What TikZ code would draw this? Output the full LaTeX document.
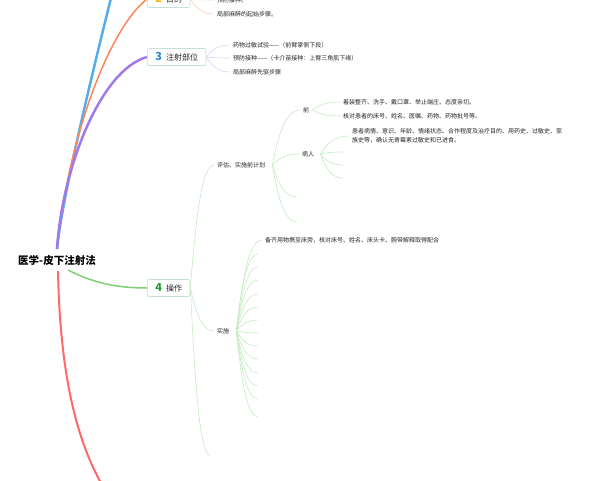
\documentclass[tikz,border=0pt]{standalone}
\usepackage{fontspec}
\setmainfont{Noto Sans CJK SC}
\usetikzlibrary{calc}
\definecolor{boxline}{RGB}{200,222,214}
\definecolor{textgray}{RGB}{38,38,38}
\definecolor{skyblue}{RGB}{86,173,234}
\definecolor{coral}{RGB}{255,133,90}
\definecolor{lavender}{RGB}{160,122,234}
\definecolor{leafgreen}{RGB}{125,208,118}
\definecolor{salmon}{RGB}{255,105,105}
\definecolor{numyellow}{RGB}{245,185,20}
\definecolor{numblue}{RGB}{45,140,215}
\definecolor{numgreen}{RGB}{40,160,50}
\newcommand{\topicnum}[2]{\textcolor{#1}{\fontsize{11}{11}\selectfont\bfseries #2}\hspace{4pt}}

\begin{document}
\begin{tikzpicture}[
    x=1pt, y=-1pt,
    topic/.style={draw=boxline, fill=white, rounded corners=2pt, line width=0.7pt,
      inner xsep=8pt, minimum height=17pt, anchor=west, text=textgray,
      font=\fontsize{8}{9}\selectfont},
    leaf/.style={anchor=west, inner xsep=3pt, inner ysep=1pt, text=textgray,
      font=\fontsize{6}{7}\selectfont},
    fan/.style={to path={.. controls ($0.4*(\tikztostart)+0.36*(\tikztostart|-\tikztotarget)+0.24*(\tikztotarget)$)
      and ($(\tikztotarget)!0.5!(\tikztostart|-\tikztotarget)$) .. (\tikztotarget)}},
    twig/.style={line width=0.6pt}
  ]
  \useasboundingbox (0,0) rectangle (600,480);
  \clip (0,0) rectangle (600,480);

  % root
  \node[font=\bfseries\fontsize{10.5}{12}\selectfont, text=black] (root) at (57,260) {医学-皮下注射法};
  \coordinate (rootN) at (57,249);
  \coordinate (rootS) at (58,271);
  \coordinate (rootE) at (68,270);
  \coordinate (n1) at (113,-10);
  \coordinate (n5) at (105,490);

  % main topics
  \node[topic] (n2) at (147,-1) {\topicnum{numyellow}{2}目的};
  \node[topic] (n3) at (147,57) {\topicnum{numblue}{3}注射部位};
  \node[topic] (n4) at (147,288) {\topicnum{numgreen}{4}操作};

  \draw[skyblue, line width=2.5pt] (rootN) .. controls (62,200) and (88,90) .. (n1);
  \draw[coral, line width=1.5pt] (rootN) .. controls (68,140) and (108,30) .. (n2.west);
  \draw[lavender, line width=2.5pt] (rootN) .. controls (62,170) and (100,70) .. (n3.west);
  \draw[leafgreen, line width=1.5pt] (rootE) .. controls (95,284) and (120,288) .. (n4.west);
  \draw[salmon, line width=2pt] (rootS) .. controls (60,370) and (75,440) .. (n5);

  % 2 目的
  \node[leaf] (c21) at (214,0) {预防接种。};
  \node[leaf] (c22) at (214,14) {局部麻醉的起始步骤。};
  \foreach \c in {c21,c22}
    \draw[twig, coral!40] (n2.east) to[fan] (\c.west);

  % 3 注射部位
  \node[leaf] (c31) at (230,45) {药物过敏试验——（前臂掌侧下段）};
  \node[leaf] (c32) at (230,58) {预防接种——（卡介苗接种：上臂三角肌下缘）};
  \node[leaf] (c33) at (230,72) {局部麻醉先驱步骤};
  \foreach \c in {c31,c32,c33}
    \draw[twig, lavender!35] (n3.east) to[fan] (\c.west);

  % 4 操作
  \node[leaf] (e1) at (214,165) {评估、实施前计划};
  \node[leaf] (e2) at (214,331) {实施};
  \coordinate (e3) at (210,455);
  \draw[twig, leafgreen!45] (n4.east) to[fan] (e1.west);
  \draw[twig, leafgreen!45] (n4.east) to[fan] (e2.west);
  \draw[twig, leafgreen!45] (n4.east) to[fan] (e3);

  % 评估
  \node[leaf] (p1) at (300,110) {前};
  \node[leaf] (p2) at (299,154) {病人};
  \coordinate (p3) at (297,197);
  \coordinate (p4) at (297,222);
  \foreach \c in {p1.west,p2.west,p3,p4}
    \draw[twig, leafgreen!45] ([xshift=4pt]e1.east) to[fan] (\c);

  \node[leaf] (q1) at (340,102) {着装整齐、洗手、戴口罩、举止端庄、态度亲切。};
  \node[leaf] (q2) at (340,116) {核对患者的床号、姓名、医嘱、药物、药物批号等。};
  \foreach \c in {q1,q2}
    \draw[twig, leafgreen!45] (p1.east) to[fan] (\c.west);

  \node[leaf, align=left, font=\fontsize{6}{9}\selectfont] (r1) at (349,136)
    {患者病情、意识、年龄、情绪状态、合作程度及治疗目的、用药史、过敏史、家\\族史等，确认无青霉素过敏史和已进食。};
  \coordinate (r2) at (343,152);
  \coordinate (r3) at (343,165);
  \coordinate (r4) at (343,178);
  \foreach \c in {r1.west,r2,r3,r4}
    \draw[twig, leafgreen!45] ([xshift=3pt]p2.east) to[fan] (\c);

  % 实施
  \node[leaf] (s0) at (262,240) {备齐用物携至床旁，核对床号、姓名、床头卡、腕带解释取得配合};
  \draw[twig, leafgreen!45] ([xshift=4pt]e2.east) to[fan] (s0.west);
  \foreach \y [count=\i] in {254,267,280,294,307,320,333,346,359,373,386,399,417} {
    \coordinate (s\i) at (258,\y);
    \draw[twig, leafgreen!45] ([xshift=4pt]e2.east) to[fan] (s\i);
  }
\end{tikzpicture}
\end{document}
